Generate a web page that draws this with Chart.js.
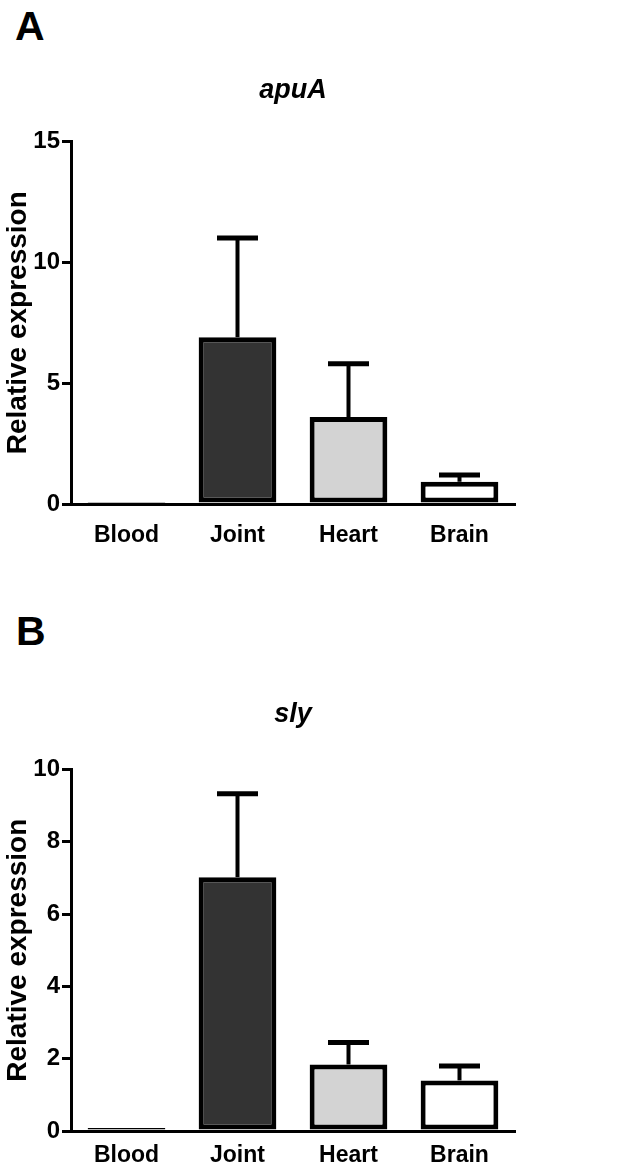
<!DOCTYPE html>
<html>
<head>
<meta charset="utf-8">
<script src="https://cdn.jsdelivr.net/npm/chart.js@4"></script>
<style>
    body { margin: 0; background: #fff; }
    .panel { position: absolute; left: 0; width: 644px; }
    .letter {
        position: absolute;
        font-family: "Liberation Sans", Arial, sans-serif;
        font-weight: bold;
        font-size: 41px;
        line-height: 1;
        color: #000;
    }
</style>
</head>
<body>
<div class="letter" style="left:15px; top:6px;">A</div>
<div class="panel" style="top:0; height:580px;"><canvas id="chartA"></canvas></div>

<div class="letter" style="left:16px; top:611px;">B</div>
<div class="panel" style="top:580px; height:589px;"><canvas id="chartB"></canvas></div>

<script>
// ================= DATA =================
const categories = ["Blood", "Joint", "Heart", "Brain"];
const barColors = ["#ffffff", "#333333", "#d3d3d3", "#ffffff"];

const apuaMeans = [0.08, 6.9, 3.6, 0.92];
const apuaErrors = [0, 4.1, 2.2, 0.28];
const apuaTicks = [0, 5, 10, 15];

const slyMeans = [0.08, 7.02, 1.84, 1.4];
const slyErrors = [0, 2.31, 0.61, 0.4];
const slyTicks = [0, 2, 4, 6, 8, 10];

Chart.defaults.font.family = '"Liberation Sans", Arial, sans-serif';
Chart.defaults.color = "#000";

// ================= ERROR BAR PLUGIN =================
const errorBars = {
    id: "errorBars",
    afterDatasetsDraw(chart, args, opts) {
        const ctx = chart.ctx;
        const yScale = chart.scales.y;
        const meta = chart.getDatasetMeta(0);
        const values = chart.data.datasets[0].data;

        ctx.save();
        ctx.strokeStyle = "#000";
        meta.data.forEach((bar, i) => {
            const err = opts.errors[i];
            if (!err) return;
            const yTop = yScale.getPixelForValue(values[i] + err);
            // stem
            ctx.lineWidth = 4;
            ctx.beginPath();
            ctx.moveTo(bar.x, bar.y);
            ctx.lineTo(bar.x, yTop);
            ctx.stroke();
            // cap
            ctx.lineWidth = 5;
            ctx.beginPath();
            ctx.moveTo(bar.x - 20.5, yTop);
            ctx.lineTo(bar.x + 20.5, yTop);
            ctx.stroke();
        });
        ctx.restore();
    }
};

// ================= CHART FUNCTION =================
function renderPanel(canvasId, title, means, errors, ticks, layout) {
    const canvas = document.getElementById(canvasId);

    new Chart(canvas, {
        type: "bar",
        data: {
            labels: categories,
            datasets: [{
                data: means,
                backgroundColor: barColors,
                borderColor: "#000",
                borderWidth: 5,
                borderSkipped: false,
                categoryPercentage: 1,
                barPercentage: 0.7
            }]
        },
        plugins: [errorBars],
        options: {
            responsive: true,
            maintainAspectRatio: false,
            animation: false,
            layout: {
                // right padding + empty right axis keep the title centred over the plot
                padding: { left: 0, right: 58, top: 0, bottom: layout.bottom }
            },
            scales: {
                x: {
                    grid: { display: false, drawTicks: false },
                    border: { display: true, color: "#000", width: 3 },
                    ticks: {
                        padding: layout.labelPad,
                        font: { size: 23, weight: "bold" },
                        color: "#000"
                    },
                    afterFit(scale) { scale.height = layout.xHeight; }
                },
                y: {
                    min: 0,
                    max: ticks[ticks.length - 1],
                    afterBuildTicks(scale) {
                        scale.ticks = ticks.map(v => ({ value: v }));
                    },
                    grid: {
                        drawOnChartArea: false,
                        drawTicks: true,
                        tickLength: 9,
                        color: "#000",
                        lineWidth: 3
                    },
                    border: { display: true, color: "#000", width: 3 },
                    ticks: {
                        padding: 2,
                        font: { size: 24, weight: "bold" },
                        color: "#000"
                    },
                    title: {
                        display: true,
                        text: "Relative expression",
                        font: { size: 28, weight: "bold" },
                        color: "#000",
                        padding: { top: 1, bottom: 0 }
                    },
                    afterFit(scale) { scale.width = 71; }
                },
                spacer: {
                    type: "linear",
                    axis: "y",
                    position: "right",
                    grid: { display: false, drawTicks: false },
                    border: { display: false },
                    ticks: { display: false },
                    afterFit(scale) { scale.width = 71; }
                }
            },
            plugins: {
                legend: { display: false },
                tooltip: { enabled: false },
                title: {
                    display: true,
                    text: title,
                    font: { size: 27, weight: "bold", style: "italic" },
                    color: "#000",
                    padding: { top: layout.titleTop, bottom: layout.titleBottom }
                },
                errorBars: { errors: errors }
            }
        }
    });
}

// ================= INIT =================
renderPanel("chartA", "apuA", apuaMeans, apuaErrors, apuaTicks,
    { titleTop: 74, titleBottom: 35, xHeight: 50, bottom: 26, labelPad: 18 });
renderPanel("chartB", "sly", slyMeans, slyErrors, slyTicks,
    { titleTop: 118, titleBottom: 39, xHeight: 33, bottom: 5, labelPad: 11 });
</script>
</body>
</html>
